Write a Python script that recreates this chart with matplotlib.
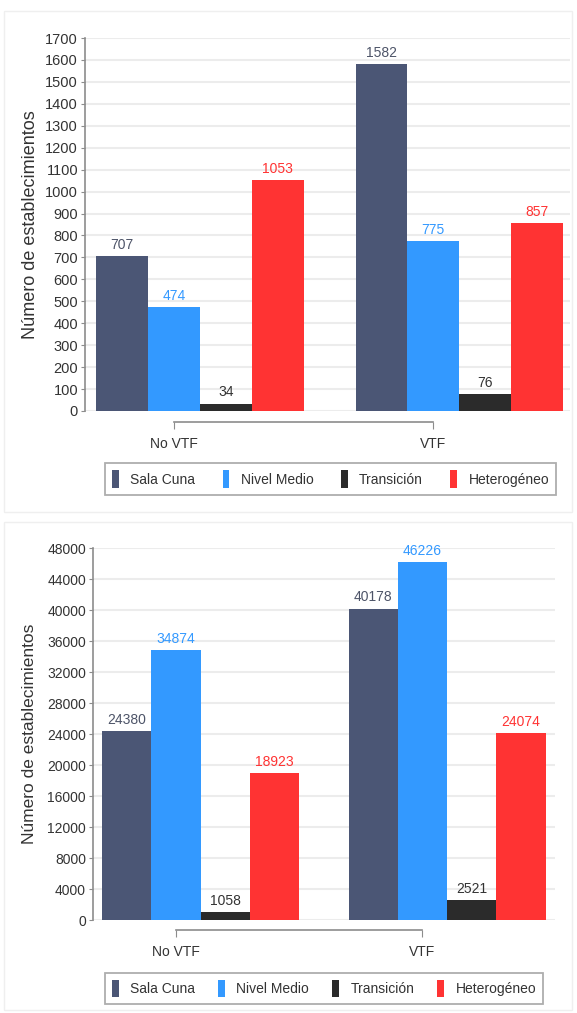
import matplotlib
matplotlib.use("Agg")
import matplotlib.pyplot as plt
from matplotlib.patches import Rectangle, Patch
import numpy as np

plt.rcParams['font.family'] = ['Liberation Sans', 'DejaVu Sans']

groups = ["No VTF", "VTF"]
series = ["Sala Cuna", "Nivel Medio", "Transición", "Heterogéneo"]
colors = ["#4b5675", "#3399ff", "#2b2b2b", "#ff3333"]
label_colors = ["#4d5468", "#3399ff", "#333333", "#ff3333"]

top_sala = [707, 1582]
top_nivel = [474, 775]
top_trans = [34, 76]
top_het = [1053, 857]
top_ticks = list(range(0, 1701, 100))

bot_sala = [24380, 40178]
bot_nivel = [34874, 46226]
bot_trans = [1058, 2521]
bot_het = [18923, 24074]
bot_ticks = list(range(0, 48001, 4000))

ylabel = "Número de establecimientos"

W, H = 577, 1013
fig = plt.figure(figsize=(W / 100, H / 100), dpi=100)


def fx(px):
    return px / W


def fy(py):
    return 1 - py / H


# faint panel borders
for (x0, y0, x1, y1) in [(4, 11, 572, 512), (4, 522, 572, 1010)]:
    fig.patches.append(Rectangle((fx(x0), fy(y1)), fx(x1) - fx(x0), fy(y0) - fy(y1),
                                 transform=fig.transFigure, fill=False,
                                 edgecolor="#efefef", linewidth=1.0))


def panel(left, right, top, bottom, unit, first_bar_px, data, ticks, ylab_x,
          bracket_pad, label_pad, legend_box, ylab_size, tick_size):
    ax = fig.add_axes([fx(left), fy(bottom), fx(right) - fx(left), fy(top) - fy(bottom)])
    positions = [np.array([0, 5]) + i for i in range(4)]
    for i, vals in enumerate(data):
        cont = ax.bar(positions[i], vals, width=1.0, color=colors[i], linewidth=0, zorder=3)
        ax.bar_label(cont, padding=3, color=label_colors[i], fontsize=10)
    ax.set_xlim(-0.5 - (first_bar_px - left) / unit, -0.5 + (right - first_bar_px) / unit)
    ax.set_ylim(0, ticks[-1])
    ax.set_yticks(ticks)
    ax.set_yticklabels([str(t) for t in ticks], fontsize=tick_size, color="#333333")
    ax.yaxis.grid(True, color="#ececec", linewidth=1.5, zorder=0)
    ax.set_axisbelow(True)
    for s in ["top", "right"]:
        ax.spines[s].set_visible(False)
    ax.spines["left"].set_color("#8c8c8c")
    ax.spines["left"].set_linewidth(1.2)
    ax.spines["bottom"].set_position(("outward", bracket_pad))
    ax.spines["bottom"].set_bounds(1, 6)
    ax.spines["bottom"].set_color("#8c8c8c")
    ax.spines["bottom"].set_linewidth(1.2)
    ax.set_xticks([1, 6])
    ax.set_xticklabels(groups, fontsize=10, color="#333333")
    ax.tick_params(axis="y", length=3, color="#8c8c8c", pad=2)
    ax.tick_params(axis="x", length=5, color="#8c8c8c", pad=label_pad)
    fig.text(fx(ylab_x), fy((top + bottom) / 2), ylabel, rotation=90, ha="center",
             va="center", fontsize=ylab_size, color="#333333")
    handles = [Patch(facecolor=colors[i], edgecolor="none", label=series[i]) for i in range(4)]
    lx0, ly0, lx1, ly1 = legend_box
    leg = fig.legend(handles=handles, loc="center", ncol=4, mode="expand",
                     bbox_to_anchor=(fx(lx0), fy(ly1), fx(lx1) - fx(lx0), fy(ly0) - fy(ly1)),
                     bbox_transform=fig.transFigure, fontsize=10, frameon=True,
                     fancybox=False, handlelength=0.5, handleheight=1.6,
                     handletextpad=0.8, borderpad=0.5, borderaxespad=0)
    fr = leg.get_frame()
    fr.set_edgecolor("#9a9a9a")
    fr.set_linewidth(1.3)
    for t in leg.get_texts():
        t.set_color("#333333")
    return ax


panel(85, 570, 38, 411, 51.9, 96,
      [top_sala, top_nivel, top_trans, top_het], top_ticks, 31,
      8, 6, (105, 461, 556, 497), 13, 10.5)

panel(93, 555, 548, 920, 49.3, 102,
      [bot_sala, bot_nivel, bot_trans, bot_het], bot_ticks, 30,
      7, 6, (105, 972, 543, 1005), 12.5, 10)

fig.savefig("out.png", dpi=100, facecolor="white")
